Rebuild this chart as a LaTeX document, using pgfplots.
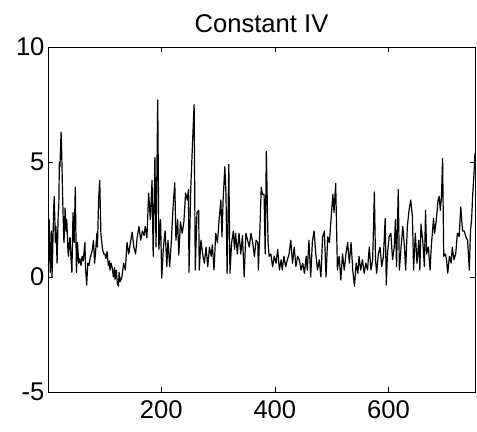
\documentclass[border=0pt]{standalone}
\usepackage{pgfplots}
\pgfplotsset{compat=1.18}
\usepackage{fontspec}
\setmainfont{Liberation Sans}
\begin{document}
\begin{tikzpicture}
\begin{axis}[
  scale only axis, width=427bp, height=345bp,
  xmin=1, xmax=752, ymin=-5, ymax=10,
  xtick={200,400,600}, xticklabels={200,400,600},
  ytick={-5,0,5,10}, yticklabels={-5,0,5,10},
  tick align=inside, major tick length=5bp,
  axis line style={line width=0.8bp},
  every tick/.style={black, line width=0.6bp},
  tick label style={font=\fontsize{25.7}{28}\selectfont},
  xticklabel style={yshift=-5bp},
  title style={font=\fontsize{25.7}{28}\selectfont, yshift=5bp},
  title={Constant IV},
]
\addplot[black, line width=1.2bp, line join=round, mark=none] coordinates {
(1,-0.3)(3,2.5)(5,0.2)(7,2.0)(8,0.0)(9,0.8)(11,3.0)(12,3.5)(14,1.5)(15,2.2)(17,0.6)(19,2.8)(20,3.0)(21,5.0)(22,4.8)(24,6.3)(25,5.5)(27,3.2)(29,1.5)(30,2.0)(31,3.0)(33,2.0)(34,2.5)(36,1.2)(37,0.9)(39,1.7)(40,1.7)(41,1.0)(43,0.2)(45,2.8)(47,1.5)(49,3.9)(51,0.2)(53,1.5)(55,0.6)(57,0.8)(59,0.5)(61,0.9)(63,0.7)(64,1.0)(66,1.5)(67,0.4)(69,-0.35)(71,0.6)(73,0.5)(75,0.8)(77,1.0)(79,1.2)(81,1.6)(83,0.6)(85,1.2)(87,1.9)(88,1.3)(90,3.35)(92,4.2)(94,1.9)(96,1.4)(97,1.2)(99,1.0)(101,1.0)(103,0.8)(105,1.1)(107,0.5)(109,0.7)(110,0.3)(112,0.6)(114,0.4)(116,0.0)(118,0.4)(119,-0.1)(121,0.3)(123,-0.3)(125,-0.4)
(126,0.2)(128,-0.2)(131,0.0)(134,0.6)(137,0.3)(140,1.5)(143,1.0)(146,1.5)(149,1.95)(152,1.3)(155,1.0)(158,1.75)(161,2.2)(164,1.6)(167,2.0)(170,1.8)(172,2.2)(175,1.7)(178,3.65)(181,2.5)(184,4.2)(186,0.9)(189,5.2)(191,1.3)(194,7.7)(196,1.2)(199,2.5)(201,-0.05)(204,1.3)(207,2.0)(210,0.45)(212,1.6)(215,0.45)(218,1.6)(221,3.05)(224,4.1)(226,1.6)(229,2.5)(231,0.95)(234,2.4)(237,1.9)(240,2.4)(243,3.65)(246,3.35)(248,3.8)(249,0.2)(252,3.8)(255,5.7)(258,7.5)
(260,0.3)(263,2.8)(266,2.9)(267,0.3)(270,1.6)(273,1.0)(276,0.6)(279,1.3)(282,0.45)(285,1.3)(288,0.9)(290,1.4)(293,0.3)(296,1.9)(299,1.5)(302,2.5)(305,3.35)(307,1.75)(309,3.35)(312,4.8)(314,3.6)(316,0.16)(319,4.9)(321,0.16)(324,1.5)(327,2.0)(329,1.2)(331,1.9)(334,1.0)(337,1.9)(340,1.0)(343,1.8)(346,0.0)(349,1.9)(352,1.6)(355,1.3)(358,1.9)(361,1.5)(364,0.9)(367,1.6)(370,1.5)(371,0.3)(374,2.3)(376,3.9)(378,3.6)(381,3.6)(383,1.0)(385,5.45)(388,1.5)(390,0.9)(393,1.0)(396,0.45)(399,0.9)(402,0.6)(405,1.2)(408,0.3)(411,0.75)(413,0.3)(416,0.9)(419,0.45)(422,0.75)(425,1.0)(428,1.6)(431,0.6)(434,1.3)(437,0.45)(440,0.9)(443,0.75)(446,0.3)(449,0.6)(452,0.16)(455,0.9)(457,0.3)(460,1.6)(463,0.0)(466,1.55)(469,2.0)
(472,1.0)(475,0.3)(478,0.75)(481,0.0)(484,1.75)(487,2.0)(490,0.0)(493,1.75)(496,1.5)(499,2.6)(502,3.6)(504,2.8)(507,4.07)(510,0.3)(513,0.9)(516,-0.13)(519,1.0)(522,0.3)(525,1.0)(528,1.5)(531,0.6)(534,1.5)(537,0.3)(540,-0.4)(543,0.6)(546,0.16)(548,0.9)(551,0.3)(554,0.75)(557,0.16)(560,0.6)(563,0.3)(566,1.3)(569,0.3)(572,0.75)(575,3.7)(577,0.75)(579,0.16)(582,1.0)(585,1.3)(588,0.45)(591,0.9)(594,2.55)(596,-0.35)(598,1.0)(601,1.75)(604,1.9)(607,0.75)(610,1.3)(612,2.5)(614,0.45)(617,3.8)(619,0.3)(622,1.3)(625,2.2)(628,1.3)(630,0.3)(633,2.2)(636,2.9)(639,3.35)(642,2.6)(644,0.3)(647,1.9)(650,0.6)(653,1.6)(655,0.3)(657,2.3)(660,1.6)(663,0.45)(665,2.9)(667,1.0)(670,1.3)(673,0.3)(675,1.3)(677,1.9)(679,2.55)(681,1.9)(684,2.5)(687,3.35)(689,3.5)(691,2.9)(693,3.5)(695,5.15)(697,0.9)(700,1.0)(702,0.75)(704,0.16)(707,0.9)(710,0.6)(712,1.3)(715,0.75)(718,1.0)(721,1.9)(724,1.75)(727,3.05)(730,2.0)(733,2.0)(736,1.75)(739,1.6)(742,0.3)(744,2.0)(746,2.5)(748,3.6)(750,4.4)(752,5.4)
};
\end{axis}
\path ([shift={(-48bp,-40bp)}]current axis.south west) rectangle ([shift={(2bp,47bp)}]current axis.north east);
\end{tikzpicture}
\end{document}
